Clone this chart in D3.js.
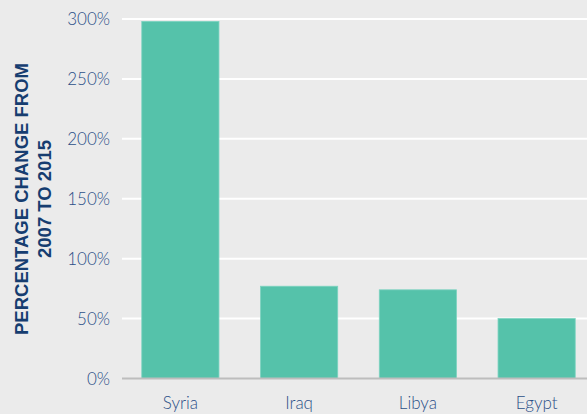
<!DOCTYPE html>
<html>
<head>
<meta charset="utf-8">
<script src="https://cdn.jsdelivr.net/npm/d3@7"></script>
<style>
  html, body { margin: 0; padding: 0; background: #ebebeb; }
  svg { display: block; }
</style>
</head>
<body>
<svg id="chart"></svg>
<script>
// data
const countries = ["Syria", "Iraq", "Libya", "Egypt"];
const changePct = [298, 77, 74, 50];
const yTicks = [0, 50, 100, 150, 200, 250, 300];
const titleLines = ["PERCENTAGE CHANGE FROM", "2007 TO 2015"];

const W = 587, H = 414;
const svg = d3.select("#chart").attr("width", W).attr("height", H);

svg.append("rect").attr("width", W).attr("height", H).attr("fill", "#ebebeb");

const x = d3.scaleBand()
  .domain(countries)
  .range([121, 596])
  .paddingInner(0.35)
  .paddingOuter(0.175);

const y = d3.scaleLinear()
  .domain([0, 300])
  .range([378.5, 19]);

// gridlines
svg.append("g")
  .selectAll("line")
  .data(yTicks.filter(d => d > 0))
  .join("line")
  .attr("x1", 122).attr("x2", W)
  .attr("y1", d => y(d)).attr("y2", d => y(d))
  .attr("stroke", "#ffffff")
  .attr("stroke-width", 2);

// bars
svg.append("g")
  .selectAll("rect")
  .data(countries)
  .join("rect")
  .attr("x", d => x(d))
  .attr("width", x.bandwidth())
  .attr("y", (d, i) => y(changePct[i]))
  .attr("height", (d, i) => y(0) - y(changePct[i]))
  .attr("fill", "#55c2aa")
  .attr("stroke", "#7dd3c0")
  .attr("stroke-width", 0.8);

// baseline
svg.append("line")
  .attr("x1", 122).attr("x2", W)
  .attr("y1", y(0)).attr("y2", y(0))
  .attr("stroke", "#bdbdbd")
  .attr("stroke-width", 2);

// y tick labels
svg.append("g")
  .selectAll("text")
  .data(yTicks)
  .join("text")
  .attr("x", 110)
  .attr("y", d => y(d))
  .attr("dy", "0.36em")
  .attr("text-anchor", "end")
  .attr("font-family", "Lato, 'Open Sans', sans-serif")
  .attr("font-weight", 300)
  .attr("font-size", 17)
  .attr("fill", "#2c5088")
  .text(d => d + "%");

// category labels
svg.append("g")
  .selectAll("text")
  .data(countries)
  .join("text")
  .attr("x", d => x(d) + x.bandwidth() / 2)
  .attr("y", 409)
  .attr("text-anchor", "middle")
  .attr("font-family", "Lato, 'Open Sans', sans-serif")
  .attr("font-weight", 300)
  .attr("font-size", 17)
  .attr("fill", "#2c5088")
  .text(d => d);

// axis title
const title = svg.append("text")
  .attr("transform", "translate(27.5,199) rotate(-90)")
  .attr("text-anchor", "middle")
  .attr("font-family", "'Liberation Sans', Arial, sans-serif")
  .attr("font-weight", "bold")
  .attr("font-size", 18.5)
  .attr("fill", "#163d70");
title.selectAll("tspan")
  .data(titleLines)
  .join("tspan")
  .attr("x", 0)
  .attr("dy", (d, i) => i === 0 ? 0 : 23)
  .text(d => d);
</script>
</body>
</html>
